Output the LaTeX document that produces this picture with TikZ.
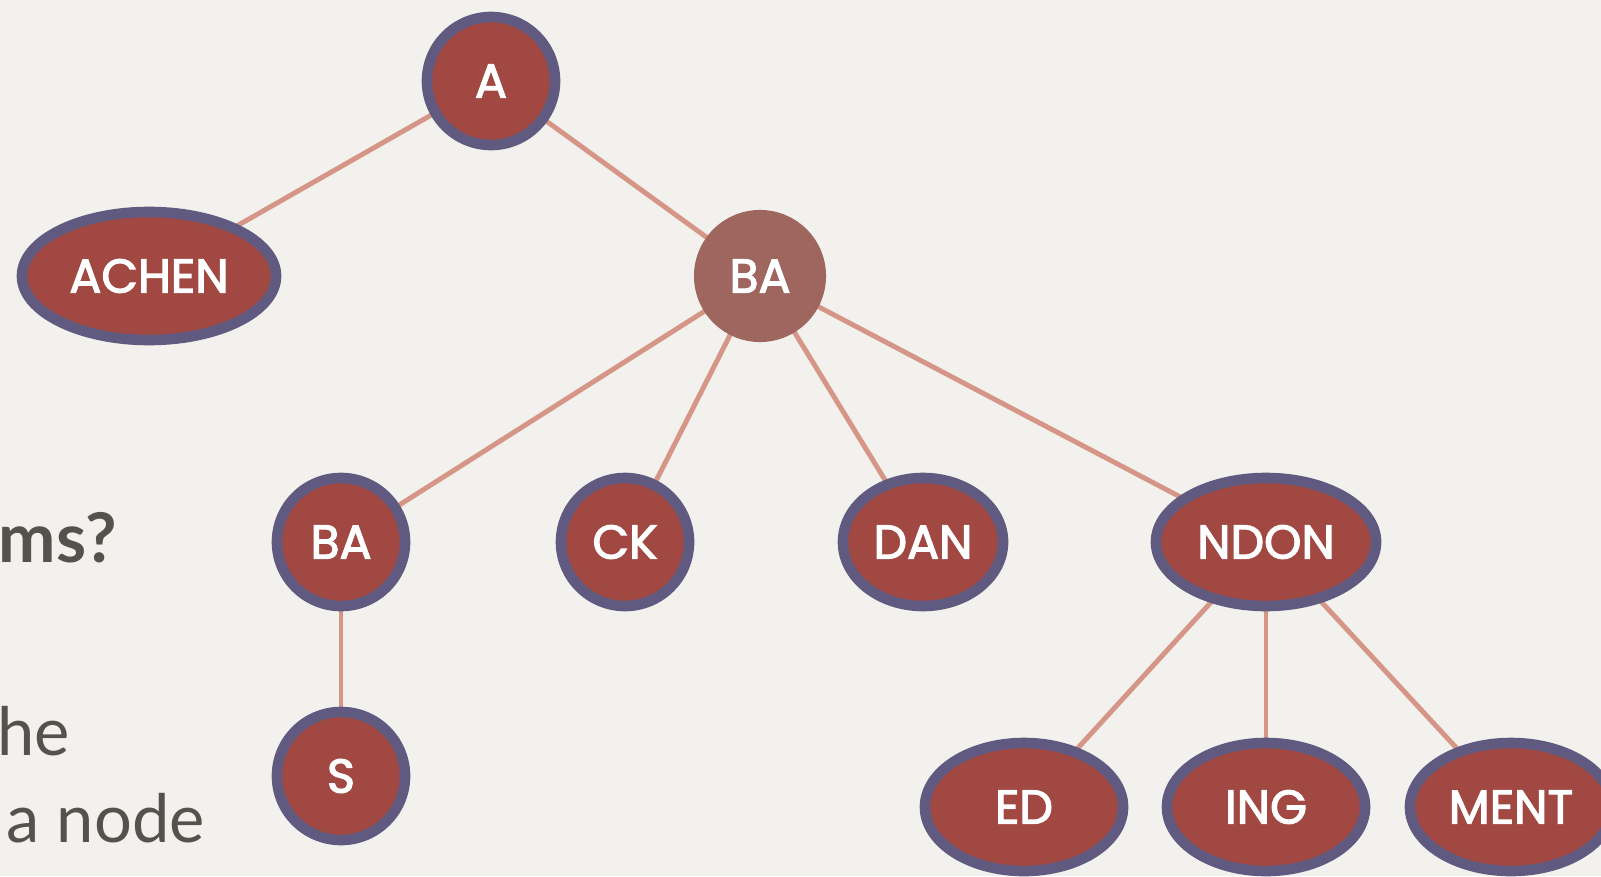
\documentclass[tikz,border=0pt]{standalone}
\usepackage{fontspec}
\setmainfont{Lato}
\newfontfamily\nodefont[FakeBold=2.5]{Poppins}
\usetikzlibrary{shapes.geometric,backgrounds}
\definecolor{paper}{RGB}{242,241,237}
\definecolor{nodefill}{RGB}{160,72,65}
\definecolor{nodeborder}{RGB}{96,90,128}
\definecolor{edgecol}{RGB}{214,150,135}
\definecolor{softfill}{RGB}{158,102,95}
\definecolor{bodytext}{RGB}{85,82,77}
\tikzset{
  tnode/.style={ellipse, draw=nodeborder, line width=3pt, fill=nodefill, text=white,
    inner sep=0pt, font=\nodefont\fontsize{13.5}{14}\selectfont},
  rnd/.style={tnode, minimum width=1.28cm, minimum height=1.28cm},
  oval/.style={tnode, minimum width=#1, minimum height=1.28cm},
  softnode/.style={circle, fill=softfill, draw=none, text=white, inner sep=0pt,
    minimum size=1.32cm, font=\nodefont\fontsize{13.5}{14}\selectfont},
  link/.style={draw=edgecol, line width=1.4pt},
  body/.style={anchor=base west, inner sep=0pt, text=bodytext, font=\fontsize{19}{22}\selectfont}
}
\begin{document}
\begin{tikzpicture}[x=0.01cm, y=-0.01cm]
\useasboundingbox (0,0) rectangle (1601,876);
\begin{scope}[on background layer]
\fill[paper] (0,0) rectangle (1601,876);
\end{scope}
\clip (0,0) rectangle (1601,876);
% nodes
\node[rnd] (a) at (491,81) {A};
\node[oval=2.54cm] (achen) at (149,276) {ACHEN};
\node[softnode] (ba1) at (760,276) {BA};
\node[rnd] (ba2) at (341,542) {BA};
\node[rnd] (ck) at (625,542) {CK};
\node[oval=1.6cm] (dan) at (923,542) {DAN};
\node[oval=2.2cm] (ndon) at (1266,542) {NDON};
\node[rnd] (s) at (341,776) {S};
\node[oval=1.98cm] (ed) at (1024,807) {ED};
\node[oval=1.98cm] (ing) at (1266,807) {ING};
\node[oval=2.02cm] (ment) at (1511,807) {MENT};
% edges
\begin{scope}[on background layer]
\draw[link] (a.center) -- (achen.center);
\draw[link] (a.center) -- (ba1.center);
\draw[link] (ba1.center) -- (ba2.center);
\draw[link] (ba1.center) -- (ck.center);
\draw[link] (ba1.center) -- (dan.center);
\draw[link] (ba1.center) -- (ndon.center);
\draw[link] (ba2.center) -- (s.center);
\draw[link] (ndon.center) -- (ed.center);
\draw[link] (ndon.center) -- (ing.center);
\draw[link] (ndon.center) -- (ment.center);
\end{scope}
% left text
\node[body, font=\bfseries\fontsize{19.5}{22}\selectfont] (t1) at (-2,562) {ms?};
\node[body] (t2) at (-3,755) {he};
\node[body] (t3) at (6,842) {a node};
\end{tikzpicture}
\end{document}
